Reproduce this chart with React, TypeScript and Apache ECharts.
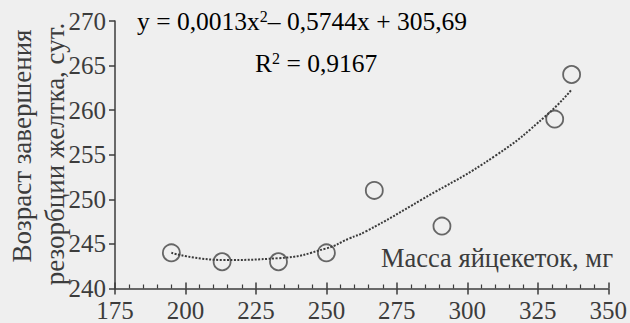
import React, { useEffect, useRef } from "react";
import * as echarts from "echarts";

const eggMass = [195, 213, 233, 250, 267, 291, 331, 337];
const resorptionAge = [244, 243, 243, 244, 251, 247, 259, 264];

const trendX = [195, 213, 233, 250, 258, 264, 284, 310, 328, 337];
const trendY = [244.0, 243.2, 243.4, 244.5, 245.6, 246.4, 250.0, 254.9, 259.4, 262.3];

const yTitle1 = "Возраст завершения";
const yTitle2 = "резорбции желтка, сут.";
const xTitle = "Масса яйцекеток, мг";
const eqText = "0,0013x";
const eqText2 = "– 0,5744x + 305,69";
const r2Text = "= 0,9167";

const FONT = "Tinos";
const INK = "#3c3c3c";

export default function App() {
  const ref = useRef<HTMLDivElement>(null);
  useEffect(() => {
    if (!ref.current) return;
    const chart = echarts.init(ref.current, null, { renderer: "svg" });
    const rich = {
      n: { fontFamily: FONT, fontSize: 25.5, color: INK },
      s: { fontFamily: FONT, fontSize: 16, color: INK, verticalAlign: "top", padding: [0, 0, 10, 0] },
    };
    chart.setOption({
      animation: false,
      backgroundColor: "#efefef",
      textStyle: { fontFamily: FONT },
      grid: { left: 115, right: 17, top: 21, bottom: 32, containLabel: false },
      xAxis: [
        {
          type: "value",
          min: 175,
          max: 350,
          interval: 25,
          position: "bottom",
          axisLine: { show: true, onZero: false, lineStyle: { color: INK, width: 1.5 } },
          axisTick: { show: true, inside: false, length: 6, lineStyle: { color: INK, width: 1.5 } },
          axisLabel: { color: INK, fontFamily: FONT, fontSize: 25, margin: 12, lineHeight: 20 },
          splitLine: { show: false },
        },
        {
          type: "value",
          min: 175,
          max: 350,
          interval: 25,
          position: "bottom",
          axisLine: { show: false, onZero: false },
          axisTick: { show: true, inside: true, length: 6, lineStyle: { color: INK, width: 1.5 } },
          minorTick: { show: true, splitNumber: 5, length: 4, lineStyle: { color: INK, width: 1.2 } },
          axisLabel: { show: false },
          splitLine: { show: false },
        },
      ],
      yAxis: {
        type: "value",
        min: 240,
        max: 270,
        interval: 5,
        axisLine: { show: true, onZero: false, lineStyle: { color: INK, width: 1.5 } },
        axisTick: { show: true, inside: false, length: 6, lineStyle: { color: INK, width: 1.5 } },
        axisLabel: { color: INK, fontFamily: FONT, fontSize: 25, margin: 9, lineHeight: 18 },
        splitLine: { show: false },
      },
      series: [
        {
          type: "line",
          data: trendX.map((x, i) => [x, trendY[i]]),
          smooth: true,
          showSymbol: false,
          lineStyle: { color: "#3a3a3a", width: 2, type: [2, 1.5] },
          z: 2,
        },
        {
          type: "scatter",
          data: eggMass.map((x, i) => [x, resorptionAge[i]]),
          symbol: "circle",
          symbolSize: 17,
          itemStyle: { color: "rgba(0,0,0,0)", borderColor: "#444", borderWidth: 1.8 },
          z: 3,
        },
      ],
      graphic: [
        {
          type: "text",
          x: 22,
          y: 146,
          rotation: Math.PI / 2,
          style: { text: yTitle1, fontFamily: FONT, fontSize: 27, fill: INK, align: "center", verticalAlign: "middle" },
        },
        {
          type: "text",
          x: 55,
          y: 154,
          rotation: Math.PI / 2,
          style: { text: yTitle2, fontFamily: FONT, fontSize: 27, fill: INK, align: "center", verticalAlign: "middle" },
        },
        {
          type: "text",
          right: 17,
          top: 244,
          style: { text: xTitle, fontFamily: FONT, fontSize: 26.5, fill: INK },
        },
        {
          type: "text",
          left: 137,
          top: 8,
          style: {
            text: "{n|y = " + eqText + "}{s|2}{n|" + eqText2 + "}",
            rich,
          },
        },
        {
          type: "text",
          left: 255,
          top: 50,
          style: {
            text: "{n|R}{s|2}{n| " + r2Text + "}",
            rich,
          },
        },
      ],
    });
    return () => chart.dispose();
  }, []);
  return <div ref={ref} style={{ width: 630, height: 323, position: "absolute", left: 0, top: 0 }} />;
}
